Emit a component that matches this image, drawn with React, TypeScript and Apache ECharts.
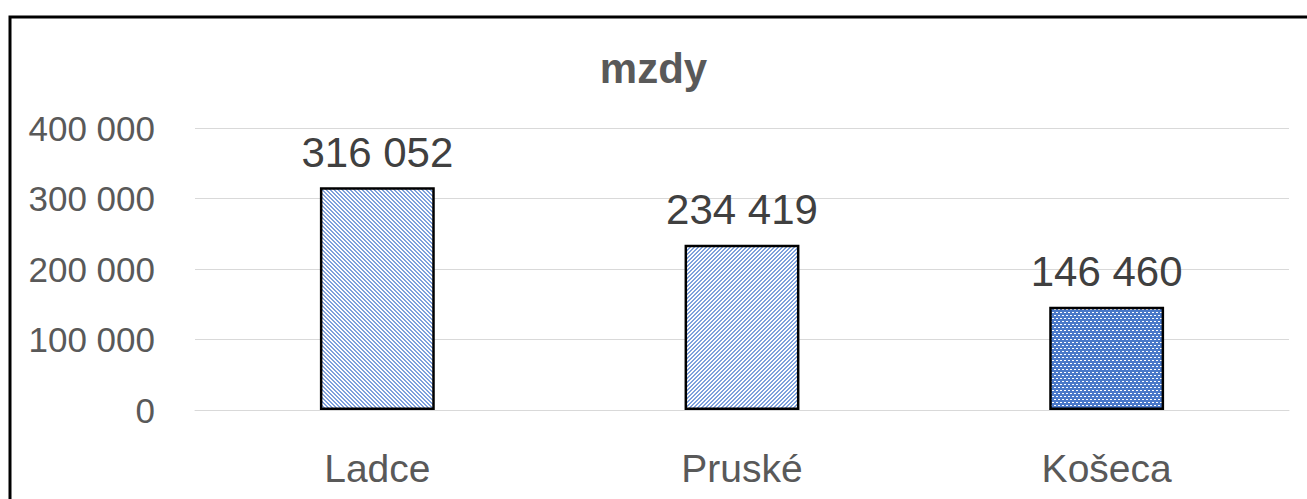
import React, { useEffect, useRef } from "react";
import * as echarts from "echarts";

const categories = ["Ladce", "Pruské", "Košeca"];
const values = [316052, 234419, 146460];
const yTicks = [0, 100000, 200000, 300000, 400000];
const title = "mzdy";

function makePattern(kind: number): string {
  const c = document.createElement("canvas");
  if (kind === 2) {
    c.width = 8;
    c.height = 6;
    const ctx = c.getContext("2d")!;
    ctx.fillStyle = "#4a78c8";
    ctx.fillRect(0, 0, 8, 6);
    ctx.fillStyle = "#ffffff";
    for (let x = 0; x < 8; x += 4) {
      ctx.fillRect(x, 0, 2, 1);
      ctx.fillRect(x + 2, 3, 2, 1);
    }
  } else {
    c.width = 8;
    c.height = 8;
    const ctx = c.getContext("2d")!;
    ctx.fillStyle = "#ffffff";
    ctx.fillRect(0, 0, 8, 8);
    ctx.fillStyle = "#7ea1dc";
    for (let y = 0; y < 8; y++) {
      for (let x = 0; x < 8; x++) {
        const d = kind === 0 ? (x - y + 16) % 4 : (x + y) % 4;
        if (d === 0 || d === 1) ctx.fillRect(x, y, 1, 1);
      }
    }
  }
  return c.toDataURL();
}

function fmt(v: number): string {
  return String(v).replace(/\B(?=(\d{3})+(?!\d))/g, " ");
}

export default function App() {
  const ref = useRef<HTMLDivElement>(null);
  useEffect(() => {
    if (!ref.current) return;
    const chart = echarts.init(ref.current, null, { renderer: "svg" });
    const patterns = [0, 1, 2].map((k) => ({
      image: makePattern(k),
      repeat: "repeat",
    }));
    chart.setOption({
      animation: false,
      backgroundColor: "#ffffff",
      title: {
        text: title,
        left: "center",
        top: 42,
        textStyle: {
          fontFamily: "Liberation Sans",
          fontWeight: "bold",
          fontSize: 42,
          color: "#595959",
        },
      },
      graphic: [
        {
          type: "rect",
          shape: { x: 10, y: 17, width: 1400, height: 600 },
          style: { fill: "none", stroke: "#000000", lineWidth: 3 },
          silent: true,
        },
      ],
      grid: { left: 195, right: 18, top: 128, bottom: 89 },
      xAxis: {
        type: "category",
        data: categories,
        axisLine: { show: true, lineStyle: { color: "#d9d9d9", width: 1 } },
        axisTick: { show: false },
        axisLabel: {
          margin: 39,
          fontFamily: "Liberation Sans",
          fontSize: 39,
          color: "#595959",
        },
      },
      yAxis: {
        type: "value",
        min: 0,
        max: 400000,
        interval: 100000,
        axisLine: { show: false },
        axisTick: { show: false },
        splitLine: { lineStyle: { color: "#d9d9d9", width: 1 } },
        axisLabel: {
          margin: 40,
          fontFamily: "Liberation Sans",
          fontSize: 35,
          color: "#595959",
          formatter: (v: number) => (yTicks.includes(v) ? fmt(v) : ""),
        },
      },
      series: [
        {
          type: "bar",
          barWidth: "31.5%",
          data: values.map((v, i) => ({
            value: v,
            itemStyle: {
              color: patterns[i],
              borderColor: "#000000",
              borderWidth: 2.5,
            },
          })),
          label: {
            show: true,
            position: "top",
            distance: 14,
            fontFamily: "Liberation Sans",
            fontSize: 42,
            color: "#404040",
            formatter: (p: any) => fmt(p.value),
          },
        },
      ],
    });
    return () => chart.dispose();
  }, []);
  return (
    <div
      ref={ref}
      style={{ position: "absolute", left: 0, top: 0, width: 1307, height: 499 }}
    />
  );
}
